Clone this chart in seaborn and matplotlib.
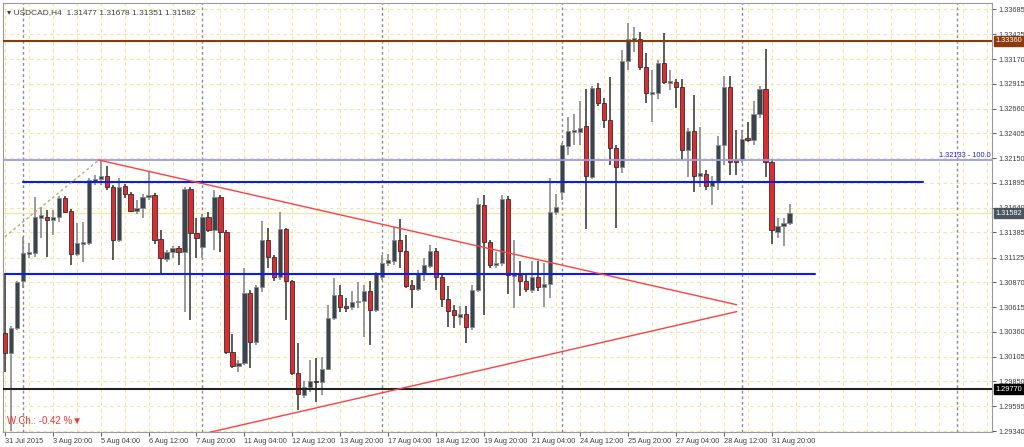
import matplotlib
matplotlib.use("Agg")
import matplotlib.pyplot as plt
import seaborn as sns
import numpy as np
import pandas as pd

opens = [1.3035,1.3014,1.3040,1.3088,1.3116,1.3117,1.3153,1.3154,1.3151,1.3154,1.3174,1.3161,1.3116,1.3127,1.3128,1.3191,1.3194,1.3197,1.3185,1.3131,
1.3186,1.3178,1.3161,1.3164,1.3175,1.3177,1.3132,1.3111,1.3118,1.3122,1.3118,1.3183,1.3138,1.3123,1.3154,1.3141,1.3175,1.3139,1.3015,1.3001,
1.3004,1.3076,1.3026,1.3082,1.3131,1.3113,1.3093,1.3142,1.3088,1.2994,1.2971,1.2979,1.2986,1.2984,1.2998,1.3050,1.3074,1.3063,1.3062,1.3067,
1.3068,1.3078,1.3059,1.3093,1.3107,1.3109,1.3131,1.3119,1.3084,1.3080,1.3097,1.3104,1.3119,1.3093,1.3070,1.3059,1.3051,1.3055,1.3041,1.3079,
1.3167,1.3129,1.3105,1.3107,1.3173,1.3094,1.3095,1.3088,1.3079,1.3093,1.3082,1.3085,1.3159,1.3180,1.3227,1.3242,1.3242,1.3248,1.3196,1.3287,
1.3272,1.3254,1.3225,1.3206,1.3315,1.3337,1.3338,1.3309,1.3281,1.3282,1.3313,1.3292,1.3293,1.3288,1.3223,1.3243,1.3197,1.3199,1.3186,1.3190,
1.3229,1.3288,1.3213,1.3213,1.3236,1.3234,1.3260,1.3286,1.3211,1.3139,1.3145,1.3148]
closes = [1.3014,1.3040,1.3087,1.3117,1.3118,1.3154,1.3156,1.3151,1.3154,1.3174,1.3160,1.3116,1.3128,1.3129,1.3192,1.3194,1.3197,1.3185,1.3131,1.3185,
1.3178,1.3161,1.3164,1.3175,1.3177,1.3131,1.3112,1.3118,1.3122,1.3118,1.3183,1.3138,1.3133,1.3154,1.3141,1.3175,1.3139,1.3015,1.3001,1.3004,
1.3076,1.3026,1.3082,1.3131,1.3113,1.3093,1.3142,1.3088,1.2994,1.2972,1.2979,1.2986,1.2984,1.2998,1.3050,1.3074,1.3062,1.3061,1.3067,1.3068,
1.3078,1.3059,1.3096,1.3107,1.3110,1.3131,1.3119,1.3083,1.3080,1.3097,1.3105,1.3119,1.3093,1.3070,1.3058,1.3053,1.3055,1.3041,1.3079,1.3168,
1.3129,1.3105,1.3107,1.3173,1.3095,1.3096,1.3088,1.3080,1.3093,1.3082,1.3085,1.3159,1.3165,1.3228,1.3243,1.3244,1.3246,1.3197,1.3287,1.3272,
1.3254,1.3225,1.3206,1.3315,1.3338,1.3339,1.3309,1.3282,1.3283,1.3313,1.3293,1.3294,1.3288,1.3223,1.3243,1.3197,1.3200,1.3186,1.3190,1.3229,
1.3288,1.3211,1.3211,1.3235,1.3234,1.3260,1.3286,1.3211,1.3141,1.3145,1.3148,1.31582]
highs = [1.3096,1.3042,1.3088,1.3134,1.3128,1.3175,1.3165,1.3162,1.3162,1.3176,1.3176,1.3163,1.3148,1.3149,1.3195,1.3198,1.3213,1.3207,1.3187,1.3195,
1.3188,1.3180,1.3172,1.3178,1.3201,1.3179,1.3141,1.3120,1.3124,1.3124,1.3185,1.3185,1.3153,1.3157,1.3160,1.3182,1.3177,1.3141,1.3034,1.3007,
1.3102,1.3079,1.3084,1.3150,1.3143,1.3115,1.3159,1.3143,1.3090,1.3025,1.2986,1.3007,1.3009,1.3010,1.3064,1.3092,1.3084,1.3071,1.3078,1.3087,
1.3084,1.3088,1.3098,1.3115,1.3116,1.3144,1.3152,1.3136,1.3090,1.3100,1.3112,1.3126,1.3122,1.3095,1.3083,1.3064,1.3063,1.3063,1.3084,1.3174,
1.3177,1.3131,1.3118,1.3177,1.3176,1.3131,1.3109,1.3095,1.3109,1.3109,1.3107,1.3195,1.3178,1.3231,1.3257,1.3260,1.3274,1.3286,1.3289,1.3292,
1.3277,1.3299,1.3228,1.3326,1.3354,1.3350,1.3345,1.3323,1.3306,1.3316,1.3344,1.3306,1.3296,1.3296,1.3246,1.3280,1.3247,1.3203,1.3197,1.3238,
1.3300,1.3300,1.3244,1.3244,1.3252,1.3274,1.3289,1.3327,1.3214,1.3153,1.3153,1.3168]
lows = [1.2995,1.2934,1.3038,1.3081,1.3112,1.3113,1.3133,1.3113,1.3136,1.3149,1.3158,1.3105,1.3114,1.3108,1.3126,1.3187,1.3187,1.3182,1.3110,1.3129,
1.3174,1.3159,1.3157,1.3153,1.3172,1.3127,1.3095,1.3108,1.3112,1.3105,1.3057,1.3048,1.3112,1.3112,1.3139,1.3120,1.3118,1.3013,1.2999,1.2995,
1.3002,1.2999,1.3023,1.3077,1.3102,1.3088,1.3090,1.3048,1.2992,1.2956,1.2968,1.2974,1.2964,1.2971,1.2997,1.3048,1.3057,1.3057,1.3059,1.3061,
1.3031,1.3023,1.3057,1.3090,1.3104,1.3105,1.3102,1.3081,1.3061,1.3078,1.3088,1.3102,1.3079,1.3062,1.3041,1.3040,1.3043,1.3025,1.3038,1.3077,
1.3053,1.3102,1.3102,1.3104,1.3075,1.3061,1.3073,1.3077,1.3076,1.3078,1.3062,1.3071,1.3156,1.3172,1.3218,1.3229,1.3229,1.3142,1.3193,1.3269,
1.3246,1.3208,1.3143,1.3200,1.3306,1.3324,1.3306,1.3272,1.3252,1.3276,1.3291,1.3285,1.3267,1.3213,1.3196,1.3180,1.3185,1.3182,1.3167,1.3182,
1.3208,1.3198,1.3198,1.3210,1.3232,1.3229,1.3256,1.3196,1.3127,1.3133,1.3124,1.3146]

tick_labels = ["31 Jul 2015","3 Aug 20:00","5 Aug 04:00","6 Aug 12:00","7 Aug 20:00","11 Aug 04:00",
               "12 Aug 12:00","13 Aug 20:00","17 Aug 04:00","18 Aug 12:00","19 Aug 20:00","21 Aug 04:00",
               "24 Aug 12:00","25 Aug 20:00","27 Aug 04:00","28 Aug 12:00","31 Aug 20:00"]
price_ticks = [1.29340,1.29595,1.29850,1.30105,1.30360,1.30615,1.30870,1.31125,1.31385,1.31640,
               1.31895,1.32150,1.32405,1.32660,1.32915,1.33170,1.33425,1.33685]
separators = [3, 33, 63, 93, 123, 159]

resistance = 1.33360
support = 1.29770
fib_level = 1.32133
blue_upper = 1.3190
blue_lower = 1.3096
last_price = 1.31582
tri_top = ([15.7, 122.2], [1.3213, 1.3064])
tri_bot = ([33.7, 122.2], [1.2932, 1.3057])
fib_trend = ([0, 15.7], [1.3134, 1.3213])

df = pd.DataFrame({"o": opens, "c": closes, "h": highs, "l": lows})
df["i"] = np.arange(len(df))
df["bull"] = df["c"] >= df["o"]

sns.set_theme(style="white")
plt.rcParams['font.family'] = ['Liberation Sans', 'DejaVu Sans']
FS = 5.3

fig = plt.figure(figsize=(10.24, 4.47), dpi=100)
ax = fig.add_axes([3/1024, 15/447, 989/1024, 429/447])
ax.set_xlim(-0.3, 164.8)
ax.set_ylim(1.29330, 1.33747)

for gx in np.arange(0, 165, 4):
    ax.axvline(gx, color="#f3e7a0", ls=(0, (3, 3)), lw=0.8, zorder=0)
for gy in price_ticks:
    ax.axhline(gy, color="#f3e7a0", ls=(0, (3, 3)), lw=0.8, zorder=0)
for s in separators:
    ax.axvline(s, color="#8a8a8a", ls=(0, (2, 2)), lw=1.0, zorder=0.5)

bull = df[df.bull]
bear = df[~df.bull]
ax.vlines(bull.i, bull.l, bull.h, color="#808080", lw=1.1, zorder=2)
ax.vlines(bear.i, bear.l, bear.h, color="#303030", lw=1.1, zorder=2)
ax.bar(bull.i, (bull.c - bull.o).clip(lower=0.00003), bottom=bull.o, width=0.7,
       color="#3a444d", edgecolor="#8a8a8a", lw=0.6, zorder=3)
ax.bar(bear.i, (bear.c - bear.o).clip(upper=-0.00003), bottom=bear.o, width=0.7,
       color="#e8262b", edgecolor="#303030", lw=0.6, zorder=3)

ax.axhline(resistance, color="#8b3a0e", lw=1.5, zorder=4)
ax.axhline(support, color="#222222", lw=1.5, zorder=4)
ax.axhline(fib_level, color="#9a9af0", lw=1.3, zorder=4)
ax.axhline(last_price, color="#f0e6b0", lw=1.0, zorder=1)
ax.plot([3, 153.3], [blue_upper]*2, color="#0a1aff", lw=1.5, zorder=4)
ax.plot([0, 135.3], [blue_lower]*2, color="#0a1aff", lw=1.5, zorder=4)
ax.plot(*tri_top, color="#ff4040", lw=1.0, zorder=4)
ax.plot(*tri_bot, color="#ff4040", lw=1.0, zorder=4)
ax.plot(*fib_trend, color="#b0b070", lw=1.0, ls=(0, (2, 2)), zorder=4)

ax.text(164.6, fib_level + 0.00012, "1.32133 - 100.0", color="#2020d0", fontsize=FS,
        ha="right", va="bottom", zorder=5)
ax.text(0.004, 0.985, "\u25be USDCAD,H4  1.31477 1.31678 1.31351 1.31582", transform=ax.transAxes,
        fontsize=6, color="#404040", va="top", ha="left")
ax.text(0.004, 0.015, "W.Ch.: -0.42 %\u25bc", transform=ax.transAxes,
        fontsize=7, color="#ff3030", va="bottom", ha="left")

ax.yaxis.tick_right()
ax.set_yticks(price_ticks)
ax.set_yticklabels([f"{p:.5f}" for p in price_ticks], fontsize=FS, color="#404040")
ax.set_xticks(np.arange(0, 8*len(tick_labels), 8))
ax.set_xticklabels(tick_labels, fontsize=FS, color="#404040", ha="left")
ax.tick_params(axis="both", length=3, width=0.6, color="#404040", pad=1.5, right=True, bottom=True)
for sp in ax.spines.values():
    sp.set_color("#9a9a9a")
    sp.set_linewidth(0.8)

for val, bg, fg in [(resistance, "#8b3a0e", "white"), (support, "#000000", "white"),
                    (last_price, "#4a5560", "white")]:
    ax.text(1.0035, val, f"{val:.5f}", transform=ax.get_yaxis_transform(), fontsize=FS,
            color=fg, va="center", ha="left",
            bbox=dict(boxstyle="square,pad=0.2", fc=bg, ec=bg), zorder=6, clip_on=False)

fig.savefig("out.png", dpi=100)
